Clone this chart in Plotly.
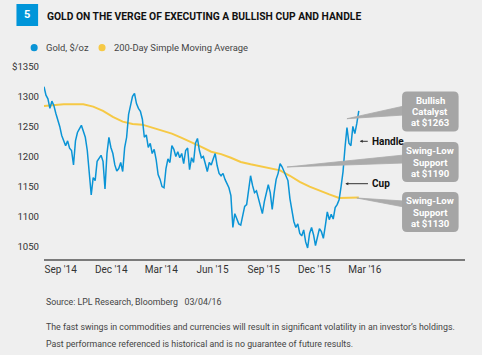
import plotly.graph_objects as go
import pandas as pd

# ---------------- data ----------------
gold_start, gold_end = "2014-08-16", "2016-03-04"
gold_values = [
    1316, 1302, 1296, 1280, 1292, 1285, 1272, 1262, 1250, 1235,
    1225, 1218, 1226, 1214, 1210, 1186, 1226, 1240, 1246, 1252,
    1242, 1232, 1210, 1168, 1136, 1165, 1160, 1192, 1198, 1202,
    1192, 1146, 1205, 1232, 1215, 1205, 1186, 1176, 1180, 1190,
    1175, 1215, 1232, 1270, 1285, 1300, 1305, 1288, 1280, 1275,
    1262, 1232, 1236, 1215, 1222, 1205, 1212, 1195, 1170, 1162,
    1150, 1148, 1180, 1196, 1190, 1218, 1212, 1200, 1208, 1198,
    1205, 1188, 1210, 1214, 1178, 1198, 1190, 1222, 1230, 1210,
    1198, 1200, 1188, 1175, 1190, 1186, 1196, 1205, 1185, 1172,
    1168, 1172, 1162, 1155, 1148, 1135, 1082, 1105, 1095, 1088,
    1086, 1100, 1117, 1120, 1145, 1168, 1152, 1140, 1143, 1130,
    1115, 1105, 1125, 1138, 1153, 1140, 1112, 1140, 1162, 1172,
    1188, 1183, 1176, 1168, 1160, 1130, 1110, 1092, 1082, 1088,
    1072, 1068, 1078, 1058, 1048, 1072, 1082, 1070, 1052, 1068,
    1080, 1075, 1064, 1085, 1108, 1095, 1104, 1096, 1115, 1120,
    1128, 1150, 1175, 1215, 1248, 1222, 1218, 1250, 1238, 1255,
    1276,
]
sma_values = [
    1284, 1286, 1287, 1287, 1287, 1283, 1276, 1266, 1258, 1254,
    1253, 1248, 1243, 1238, 1231, 1224, 1216, 1208, 1204, 1198,
    1191, 1187, 1184, 1180, 1177, 1168, 1158, 1150, 1143, 1137,
    1131, 1131, 1132,
]
tick_dates = ["2014-09-15", "2014-12-15", "2015-03-15", "2015-06-15",
              "2015-09-15", "2015-12-15", "2016-03-15"]
tick_labels = ["Sep '14", "Dec '14", "Mar '14", "Jun '15", "Sep '15", "Dec '15", "Mar '16"]
y_ticks = [1050, 1100, 1150, 1200, 1250, 1300, 1350]
y_labels = ["1050", "1100", "1150", "1200", "1250", "1300", "$1350"]

gold_dates = pd.date_range(gold_start, gold_end, periods=len(gold_values))
sma_dates = pd.date_range(gold_start, gold_end, periods=len(sma_values))

BLUE = "#0a94d6"
YELLOW = "#f6c945"
BG = "#efefef"
FONT = "Roboto, Liberation Sans, sans-serif"

# plot area in pixels
L, R, T, B = 37, 465, 66, 259
W, H = 482, 355


def px(x):
    return (x - L) / (R - L)


def py(y):
    return (B - y) / (B - T)


fig = go.Figure()
fig.add_trace(go.Scatter(x=sma_dates, y=sma_values, mode="lines",
                         line=dict(color=YELLOW, width=2), name="200-Day Simple Moving Average",
                         hoverinfo="skip"))
fig.add_trace(go.Scatter(x=gold_dates, y=gold_values, mode="lines",
                         line=dict(color=BLUE, width=1.5), name="Gold, $/oz",
                         hoverinfo="skip"))

shapes = []
annotations = []

# title badge
shapes.append(dict(type="rect", xref="paper", yref="paper",
                   x0=px(9), x1=px(31), y0=py(26), y1=py(4),
                   fillcolor="#0095d9", line=dict(width=0), layer="above"))
annotations.append(dict(xref="paper", yref="paper", x=px(20), y=py(15), text="<b>5</b>",
                        showarrow=False, font=dict(family=FONT, size=11, color="white"),
                        xanchor="center", yanchor="middle"))
annotations.append(dict(xref="paper", yref="paper", x=px(38), y=py(16.5),
                        text="<b>GOLD ON THE VERGE OF EXECUTING A BULLISH CUP AND HANDLE</b>",
                        showarrow=False, font=dict(family=FONT, size=10.3, color="#111111"),
                        xanchor="left", yanchor="middle"))

# legend
for cx, col, label, tx in [(27, BLUE, "Gold, $/oz", 37), (96, YELLOW, "200-Day Simple Moving Average", 106)]:
    r = 3.6
    shapes.append(dict(type="circle", xref="paper", yref="paper",
                       x0=px(cx - r), x1=px(cx + r), y0=py(47.7 + r), y1=py(47.7 - r),
                       fillcolor=col, line=dict(width=0)))
    annotations.append(dict(xref="paper", yref="paper", x=px(tx), y=py(47.7), text=label,
                            showarrow=False, font=dict(family=FONT, size=9.4, color="#444444"),
                            xanchor="left", yanchor="middle"))


def rounded_box(x0, y0, x1, y1, r=5):
    X0, X1 = px(x0), px(x1)
    Y0, Y1 = py(y0), py(y1)
    rx = r / (R - L)
    ry = r / (B - T)
    return (f"M {X0 + rx},{Y0} L {X1 - rx},{Y0} Q {X1},{Y0} {X1},{Y0 - ry} "
            f"L {X1},{Y1 + ry} Q {X1},{Y1} {X1 - rx},{Y1} L {X0 + rx},{Y1} "
            f"Q {X0},{Y1} {X0},{Y1 + ry} L {X0},{Y0 - ry} Q {X0},{Y0} {X0 + rx},{Y0} Z")


BOX = "#a5a5a5"
callouts = [
    # (tip x, tip y, wedge top y, wedge bottom y, box y0, box y1, lines)
    (345, 118.7, 106, 115, 91.5, 131.5, ["Bullish", "Catalyst", "at $1263"]),
    (284, 167, 155, 163, 142, 182, ["Swing-Low", "Support", "at $1190"]),
    (355, 198, 201, 207, 192, 232, ["Swing-Low", "Support", "at $1130"]),
]
for tx, ty, wy0, wy1, by0, by1, lines in callouts:
    shapes.append(dict(type="path", xref="paper", yref="paper",
                       path=f"M {px(tx)},{py(ty)} L {px(403)},{py(wy0)} L {px(403)},{py(wy1)} Z",
                       fillcolor="#ababab", line=dict(color="#ababab", width=0.8), layer="above"))
    shapes.append(dict(type="path", xref="paper", yref="paper",
                       path=rounded_box(401, by0, 458.5, by1),
                       fillcolor=BOX, line=dict(width=0), layer="above"))
    mid = (by0 + by1) / 2
    for i, t in enumerate(lines):
        annotations.append(dict(xref="paper", yref="paper", x=px(429.7), y=py(mid + (i - 1) * 11.2),
                                text=f"<b>{t}</b>", showarrow=False,
                                font=dict(family=FONT, size=9.6, color="white"),
                                xanchor="center", yanchor="middle"))

# Handle / Cup pointers
for label, ax0, ax1, ay in [("Handle", 358, 367.5, 141.3), ("Cup", 343.3, 367.5, 183.7)]:
    annotations.append(dict(xref="paper", yref="paper", x=px(ax0), y=py(ay),
                            ax=ax1 - ax0, ay=0, axref="pixel", ayref="pixel",
                            text="", showarrow=True, arrowhead=2, arrowsize=0.6,
                            arrowwidth=1, arrowcolor="#333333", standoff=0))
    annotations.append(dict(xref="paper", yref="paper", x=px(368.5), y=py(ay),
                            text=f"<b>{label}</b>", showarrow=False,
                            font=dict(family=FONT, size=10, color="#111111"),
                            xanchor="left", yanchor="middle"))

# footnotes
for yy, t in [(302, "Source: LPL Research, Bloomberg   03/04/16"),
              (326.7, "The fast swings in commodities and currencies will result in significant volatility in an investor\u2019s holdings."),
              (344, "Past performance referenced is historical and is no guarantee of future results.")]:
    annotations.append(dict(xref="paper", yref="paper", x=px(37.5), y=py(yy), text=t,
                            showarrow=False, font=dict(family=FONT, size=8.8, color="#444444"),
                            xanchor="left", yanchor="middle"))

fig.update_layout(
    width=W, height=H,
    margin=dict(l=L, r=W - R, t=T, b=H - B, pad=0),
    paper_bgcolor=BG, plot_bgcolor=BG,
    showlegend=False,
    shapes=shapes, annotations=annotations,
    font=dict(family=FONT, color="#333333"),
    xaxis=dict(range=["2014-08-16", "2016-09-11"], tickvals=tick_dates, ticktext=tick_labels,
               showgrid=False, zeroline=False, ticks="", showline=True,
               linecolor="#7a7a7a", linewidth=1.5,
               tickfont=dict(family=FONT, size=10, color="#333333")),
    yaxis=dict(range=[1029.6, 1350.5], tickvals=y_ticks, ticktext=y_labels,
               showgrid=False, zeroline=False, ticks="", showline=False,
               ticklabelstandoff=4,
               tickfont=dict(family=FONT, size=9.6, color="#333333")),
)

fig.write_html("out.html", config={"displayModeBar": False},
               post_script="document.body.style.margin='0';")
